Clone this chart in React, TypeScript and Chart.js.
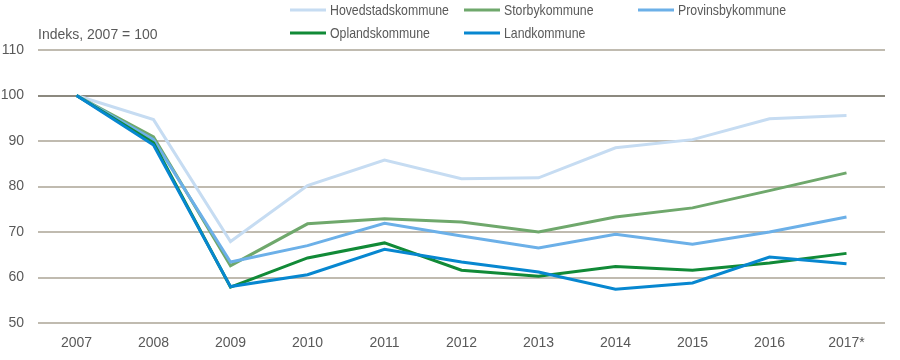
import React, { useEffect, useRef } from "react";
import { Chart, registerables } from "chart.js";

Chart.register(...registerables);

const years = ["2007", "2008", "2009", "2010", "2011", "2012", "2013", "2014", "2015", "2016", "2017*"];
const seriesNames = ["Hovedstadskommune", "Storbykommune", "Provinsbykommune", "Oplandskommune", "Landkommune"];
const hovedstad = [100, 94.7, 67.9, 80.2, 85.8, 81.7, 81.9, 88.5, 90.3, 94.9, 95.6];
const storby = [100, 90.9, 62.6, 71.8, 72.9, 72.2, 70.0, 73.3, 75.3, 79.1, 83.0];
const provinsby = [100, 90.3, 63.4, 67.0, 71.9, 69.1, 66.5, 69.5, 67.3, 70.0, 73.3];
const oplands = [100, 89.6, 57.9, 64.3, 67.6, 61.6, 60.3, 62.4, 61.6, 63.2, 65.3];
const land = [100, 89.1, 58.0, 60.6, 66.2, 63.4, 61.2, 57.4, 58.8, 64.5, 63.0];
const seriesColors = ["#c6dcf2", "#6fa86c", "#6cb0e8", "#118a37", "#0787d0"];
const yTitle = "Indeks, 2007 = 100";

const FONT = "'Liberation Sans', Arial, sans-serif";
const TEXT = "#595959";

const overlay = {
  id: "overlay",
  afterDraw(chart: any) {
    const ctx = chart.ctx;
    ctx.save();
    ctx.fillStyle = TEXT;
    ctx.font = `14px ${FONT}`;
    ctx.textBaseline = "middle";
    ctx.textAlign = "left";
    ctx.fillText(yTitle, chart.chartArea.left, 35);
    const cols = [290, 464, 638];
    const rows = [10, 33];
    seriesNames.forEach((name, i) => {
      const x = cols[i % 3];
      const y = rows[Math.floor(i / 3)];
      ctx.strokeStyle = seriesColors[i];
      ctx.lineWidth = 3;
      ctx.beginPath();
      ctx.moveTo(x, y);
      ctx.lineTo(x + 36, y);
      ctx.stroke();
      ctx.save();
      ctx.translate(x + 40, y + 1);
      ctx.scale(0.82, 1);
      ctx.font = `15px ${FONT}`;
      ctx.fillStyle = TEXT;
      ctx.fillText(name, 0, 0);
      ctx.restore();
    });
    ctx.restore();
  },
};

export default function App() {
  const ref = useRef<HTMLCanvasElement>(null);
  useEffect(() => {
    if (!ref.current) return;
    const data = [hovedstad, storby, provinsby, oplands, land];
    const chart = new Chart(ref.current, {
      type: "line",
      data: {
        labels: years,
        datasets: data.map((d, i) => ({
          label: seriesNames[i],
          data: d,
          borderColor: seriesColors[i],
          backgroundColor: seriesColors[i],
          borderWidth: 3,
          pointRadius: 0,
          tension: 0,
          fill: false,
          order: 5 - i,
        })),
      },
      options: {
        responsive: false,
        animation: false,
        layout: { padding: { top: 50, right: 15, left: 0, bottom: 0 } },
        plugins: { legend: { display: false }, tooltip: { enabled: false }, title: { display: false } },
        scales: {
          x: {
            offset: true,
            grid: { display: false, drawTicks: false },
            border: { display: false },
            ticks: { color: TEXT, font: { size: 14, family: FONT }, padding: 12, maxRotation: 0, autoSkip: false },
            afterFit: (s: any) => { s.height = 37; },
          },
          y: {
            min: 50,
            max: 110,
            ticks: { stepSize: 10, color: TEXT, font: { size: 14, family: FONT }, padding: 14 },
            grid: {
              drawTicks: false,
              lineWidth: 2,
              color: (c: any) => (c.tick && c.tick.value === 100 ? "#8c897f" : "#c0bbb0"),
            },
            border: { display: false },
            afterFit: (s: any) => { s.width = 38; },
          },
        },
      },
      plugins: [overlay],
    });
    return () => chart.destroy();
  }, []);
  return (
    <div style={{ position: "absolute", left: 0, top: 0, width: 900, height: 360, background: "#fff" }}>
      <canvas ref={ref} width={900} height={360} />
    </div>
  );
}
